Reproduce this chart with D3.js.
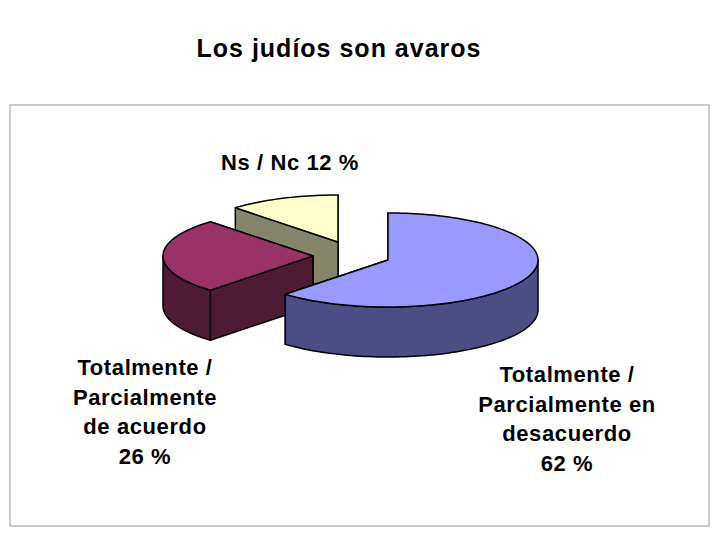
<!DOCTYPE html><html><head><meta charset="utf-8"><script src="https://cdn.jsdelivr.net/npm/d3@7"></script>
<style>body{margin:0;background:#fff}text{font-family:"Liberation Sans",Arial,sans-serif;font-weight:bold}</style></head><body><svg id="c" width="720" height="540"></svg>
<script>
const categories=["Totalmente / Parcialmente en desacuerdo","Totalmente / Parcialmente de acuerdo","Ns / Nc"];
const values=[62,26,12];
const labelLines=[["Totalmente /","Parcialmente en","desacuerdo","62 %"],["Totalmente /","Parcialmente","de acuerdo","26 %"],["Ns / Nc 12 %"]];
const topColors=["#9999FF","#993366","#FFFFCC"];
const sideColors=["#4D4D85","#4F1A33","#85856A"];
// layout
const base={x:335,y:256}, rx=150, ry=47, depth=50;
const offsets=[[53,4],[-22,0],[3,-14]];
const labelPos=[[567,382],[145,375],[290,170]];

const svg=d3.select("#c");
svg.append("rect").attr("x",10).attr("y",105).attr("width",699).attr("height",421).attr("fill","#fff").attr("stroke","#999").attr("stroke-width",1);
svg.append("text").attr("x",339).attr("y",57).attr("text-anchor","middle").attr("font-size",25).attr("letter-spacing",1).text("Los judíos son avaros");

const arcs=d3.pie().sort(null).value(d=>d)(values);
const toScreen=a=>a-Math.PI/2;
const pt=(c,t,dz=0)=>[c.x+rx*Math.cos(t),c.y+ry*Math.sin(t)+dz];
function arcPts(c,t0,t1,dz){const n=Math.max(2,Math.ceil(Math.abs(t1-t0)/0.03));return d3.range(n+1).map(i=>pt(c,t0+(t1-t0)*i/n,dz));}
const line=d3.line();
const order=[2,1,0];
order.forEach(i=>{
  const a=arcs[i];const c={x:base.x+offsets[i][0],y:base.y+offsets[i][1]};
  const t0=toScreen(a.startAngle),t1=toScreen(a.endAngle);
  const g=svg.append("g").attr("stroke","#000").attr("stroke-width",1.5).attr("stroke-linejoin","round");
  // cut faces, back ones first
  [t0,t1].sort((p,q)=>Math.sin(p)-Math.sin(q)).forEach(t=>{const p=pt(c,t);
    g.append("path").attr("fill",sideColors[i]).attr("d",line([[c.x,c.y],p,[p[0],p[1]+depth],[c.x,c.y+depth]])+"Z");});
  for(let k=-1;k<=1;k++){const lo=Math.max(t0,2*Math.PI*k),hi=Math.min(t1,2*Math.PI*k+Math.PI);
    if(hi>lo){const top=arcPts(c,lo,hi,0),bot=arcPts(c,hi,lo,depth);
      g.append("path").attr("fill",sideColors[i]).attr("d",line(top.concat(bot))+"Z");}}
  g.append("path").attr("fill",topColors[i]).attr("d",line([[c.x,c.y]].concat(arcPts(c,t0,t1,0)))+"Z");
});
labelLines.forEach((ls,i)=>{const t=svg.append("text").attr("text-anchor","middle").attr("font-size",22).attr("letter-spacing",0.6);
  ls.forEach((l,j)=>t.append("tspan").attr("x",labelPos[i][0]).attr("y",labelPos[i][1]+j*29.5).text(l));});
</script></body></html>
